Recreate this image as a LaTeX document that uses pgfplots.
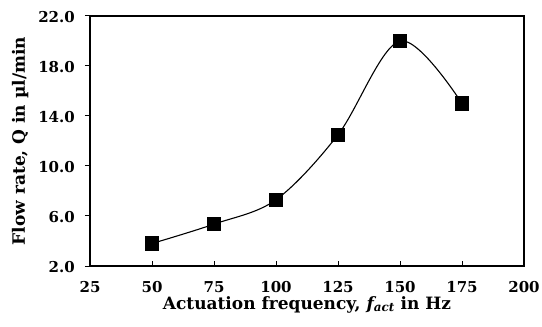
\documentclass[border=0pt]{standalone}
\usepackage{fontspec}
\setmainfont{DejaVu Serif}
\usepackage{pgfplots}
\pgfplotsset{compat=1.18}
\begin{document}
\begin{tikzpicture}
\begin{axis}[
  scale only axis,
  width=434pt, height=250pt,
  xmin=25, xmax=200, ymin=2, ymax=22,
  xtick={25,50,...,200},
  ytick={2,6,10,14,18,22},
  axis line style={line width=1.2pt},
  tick style={line width=1pt, black},
  xtick pos=bottom, ytick pos=left,
  xtick align=inside, ytick align=outside,
  major tick length=5pt,
  /pgf/number format/assume math mode=true,
  yticklabel style={/pgf/number format/fixed, /pgf/number format/fixed zerofill, /pgf/number format/precision=1, anchor=east, inner sep=0pt, xshift=-10pt, yshift=-1pt},
  xticklabel style={/pgf/number format/fixed, anchor=base, inner sep=0pt, yshift=-26pt},
  ticklabel style={font=\fontsize{15}{17}\selectfont\bfseries},
  label style={font=\fontsize{17}{19}\selectfont\bfseries},
  xlabel={Actuation frequency, \textit{f\textsubscript{act}} in Hz},
  ylabel={Flow rate, Q in µl/min},
  xlabel style={at={(axis description cs:0.5,-0.172)}, anchor=base},
  ylabel style={at={(axis description cs:-0.1498,0.5)}, anchor=base},
]
\addplot[black, line width=1.1pt, smooth, tension=0.55, mark=square*, mark size=6.5pt, mark options={solid, fill=black}]
  coordinates {(50,3.8) (75,5.35) (100,7.3) (125,12.5) (150,20.0) (175,15.0)};
\coordinate (sw) at (rel axis cs:0,0);
\coordinate (ne) at (rel axis cs:1,1);
\end{axis}
\pgfresetboundingbox
\path[use as bounding box] ([shift={(-90pt,-60pt)}]sw) rectangle ([shift={(18pt,16pt)}]ne);
\end{tikzpicture}
\end{document}
